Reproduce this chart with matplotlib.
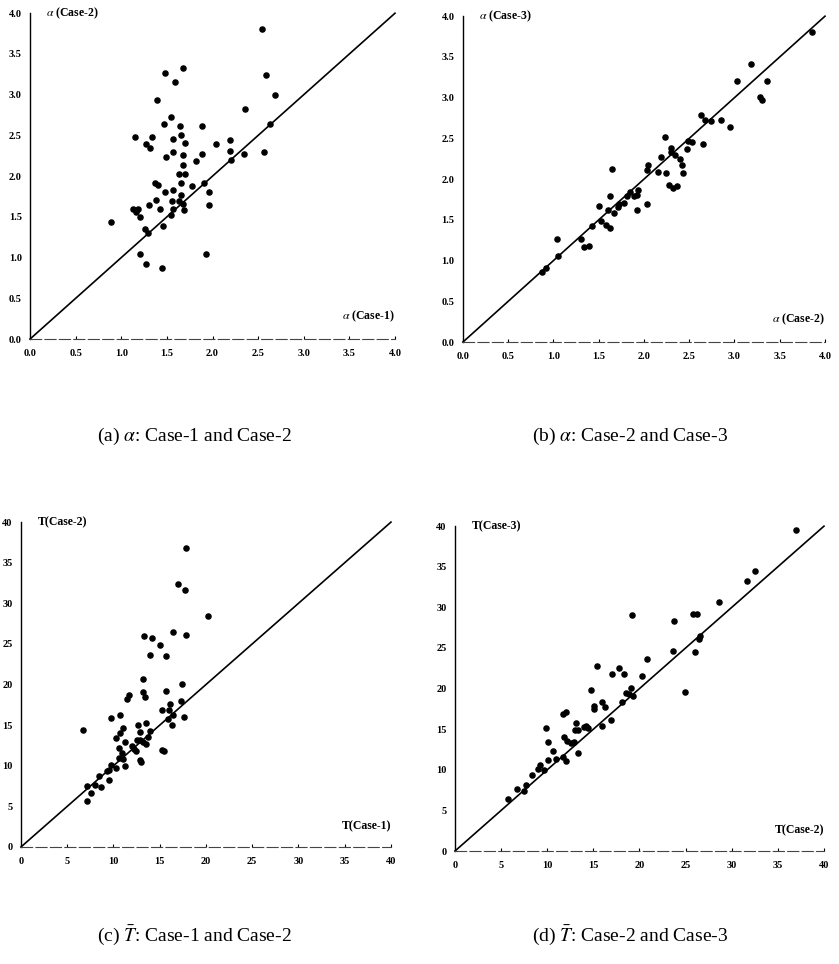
import numpy as np
import matplotlib.pyplot as plt

plt.rcParams['mathtext.fontset'] = 'stix'

# (a) alpha: Case-1 vs Case-2
a_case1 = [0.89, 2.54, 2.59, 2.69, 2.36, 2.63, 2.56, 2.35, 2.20, 2.19, 2.19, 2.04,
           1.89, 1.88, 1.82, 1.78, 1.91, 1.96, 1.96, 1.93, 1.68, 1.48, 1.59, 1.39,
           1.55, 1.47, 1.64, 1.66, 1.57, 1.70, 1.15, 1.34, 1.27, 1.32, 1.57, 1.68,
           1.49, 1.68, 1.63, 1.70, 1.65, 1.37, 1.40, 1.48, 1.57, 1.65, 1.38, 1.30,
           1.56, 1.63, 1.68, 1.69, 1.57, 1.42, 1.54, 1.13, 1.18, 1.16, 1.20, 1.26,
           1.29, 1.46, 1.20, 1.27, 1.45]
a_case2 = [1.44, 3.80, 3.24, 2.99, 2.82, 2.64, 2.29, 2.27, 2.20, 2.31, 2.44, 2.40,
           2.62, 2.27, 2.18, 1.88, 1.91, 1.80, 1.64, 1.05, 3.33, 3.27, 3.15, 2.93,
           2.72, 2.64, 2.61, 2.51, 2.46, 2.41, 2.48, 2.48, 2.39, 2.34, 2.30, 2.26,
           2.23, 2.14, 2.02, 2.02, 1.91, 1.92, 1.89, 1.80, 1.83, 1.77, 1.71, 1.64,
           1.69, 1.70, 1.66, 1.58, 1.60, 1.60, 1.52, 1.60, 1.60, 1.56, 1.50, 1.35,
           1.30, 1.39, 1.04, 0.92, 0.87]

# (b) alpha: Case-2 vs Case-3
b_case2 = [3.86, 3.18, 3.03, 3.36, 3.28, 3.30, 2.63, 2.67, 2.74, 2.85, 2.95, 2.65,
           2.49, 2.53, 2.47, 2.23, 2.30, 2.30, 2.34, 2.19, 2.40, 2.42, 2.43, 2.24,
           2.16, 2.04, 2.03, 2.28, 2.32, 2.36, 1.93, 1.92, 1.89, 1.85, 1.81, 1.78,
           1.72, 1.71, 1.92, 2.03, 1.65, 1.62, 1.60, 1.67, 1.50, 1.53, 1.58, 1.62,
           1.43, 1.30, 1.34, 1.39, 1.04, 1.05, 0.92, 0.87]
b_case3 = [3.81, 3.41, 3.20, 3.20, 3.01, 2.97, 2.79, 2.73, 2.71, 2.73, 2.64, 2.43,
           2.47, 2.46, 2.37, 2.52, 2.38, 2.33, 2.29, 2.27, 2.25, 2.17, 2.08, 2.08,
           2.09, 2.17, 2.11, 1.93, 1.89, 1.91, 1.87, 1.81, 1.79, 1.84, 1.79, 1.71,
           1.70, 1.66, 1.62, 1.69, 2.12, 1.79, 1.62, 1.58, 1.67, 1.49, 1.44, 1.40,
           1.43, 1.26, 1.17, 1.18, 1.26, 1.05, 0.91, 0.86]

# (c) T: Case-1 vs Case-2
c_case1 = [17.87, 16.97, 17.76, 20.25, 16.43, 17.87, 13.25, 14.12, 14.98, 13.94,
           15.63, 13.18, 17.44, 15.70, 13.18, 13.39, 11.73, 11.48, 17.29, 16.14,
           15.27, 15.99, 16.43, 17.65, 15.85, 16.28, 9.78, 10.72, 11.01, 10.72,
           10.29, 11.30, 10.58, 10.94, 12.60, 12.82, 13.47, 13.97, 13.68, 12.89,
           12.53, 13.18, 13.47, 12.02, 12.24, 12.45, 10.58, 11.08, 11.30, 10.29,
           9.71, 9.57, 9.28, 9.50, 12.82, 12.96, 15.20, 15.42, 8.48, 8.05, 8.70,
           7.11, 7.62, 7.18, 6.68]
c_case2 = [36.86, 32.44, 31.65, 28.47, 26.45, 26.12, 25.95, 25.74, 24.83, 23.60,
           23.51, 20.74, 20.08, 19.26, 19.09, 18.51, 18.68, 18.26, 18.02, 17.60,
           16.86, 16.86, 16.20, 16.03, 15.79, 14.96, 15.87, 16.28, 14.63, 14.05,
           13.39, 12.89, 12.15, 11.57, 14.96, 14.21, 15.21, 14.30, 13.55, 13.22,
           13.14, 12.98, 12.64, 12.48, 12.07, 11.78, 10.91, 10.83, 9.92, 9.75,
           10.08, 9.50, 9.34, 8.26, 10.66, 10.50, 11.90, 11.82, 8.76, 7.69, 7.36,
           7.52, 6.61, 5.70, 14.38]

# (d) T: Case-2 vs Case-3
d_case2 = [36.94, 32.54, 31.68, 28.58, 19.17, 25.84, 26.20, 23.71, 23.60, 25.98,
           26.56, 26.41, 24.90, 20.86, 20.29, 15.35, 17.77, 16.97, 18.31, 14.74,
           15.03, 15.10, 15.89, 16.25, 19.03, 18.56, 18.85, 18.13, 19.35, 16.86,
           15.89, 14.23, 14.45, 13.95, 13.08, 13.01, 13.37, 12.07, 11.71, 11.78,
           12.14, 12.58, 12.86, 13.37, 9.91, 10.05, 10.63, 10.13, 10.99, 11.71,
           12.00, 9.26, 8.97, 9.62, 8.40, 7.75, 7.46, 6.74, 5.80]
d_case3 = [39.55, 34.43, 33.24, 30.66, 29.10, 29.14, 29.14, 28.36, 24.63, 24.55,
           26.52, 26.11, 19.63, 23.65, 21.52, 22.75, 22.58, 21.84, 21.76, 19.80,
           17.91, 17.50, 18.40, 17.75, 20.12, 19.47, 19.30, 18.40, 19.06, 16.19,
           15.37, 15.45, 15.20, 15.29, 15.78, 14.96, 14.96, 17.17, 16.84, 14.06,
           13.57, 13.32, 13.40, 12.09, 15.12, 13.40, 12.34, 11.19, 11.35, 11.60,
           11.11, 10.53, 10.04, 9.96, 9.30, 8.16, 7.34, 7.58, 6.43]

alpha_ticks = [0.0, 0.5, 1.0, 1.5, 2.0, 2.5, 3.0, 3.5, 4.0]
T_ticks = [0, 5, 10, 15, 20, 25, 30, 35, 40]

tick_font = dict(family='Liberation Serif', weight='bold', size=7.5)
lab_font = dict(family='Liberation Serif', weight='bold', size=8.5)

fig = plt.figure(figsize=(8.39, 9.64), dpi=100)

panels = [
    # rect, x, y, ticks, fmt, xlabel, ylabel, caption, caption xy
    ([0.0358, 0.6483, 0.435, 0.338], a_case1, a_case2, alpha_ticks, '{:.1f}',
     r'$\alpha$ (Case-1)', r'$\alpha$ (Case-2)', r'(a) $\alpha$: Case-1 and Case-2', (0.232, 0.547)),
    ([0.5518, 0.6452, 0.4315, 0.338], b_case2, b_case3, alpha_ticks, '{:.1f}',
     r'$\alpha$ (Case-2)', r'$\alpha$ (Case-3)', r'(b) $\alpha$: Case-2 and Case-3', (0.751, 0.547)),
    ([0.025, 0.1214, 0.441, 0.337], c_case1, c_case2, T_ticks, '{:d}',
     'T(Case-1)', 'T(Case-2)', r'(c) $\bar{T}$: Case-1 and Case-2', (0.232, 0.030)),
    ([0.5423, 0.1172, 0.4398, 0.337], d_case2, d_case3, T_ticks, '{:d}',
     'T(Case-2)', 'T(Case-3)', r'(d) $\bar{T}$: Case-2 and Case-3', (0.751, 0.030)),
]

for rect, xs, ys, ticks, fmt, xlab, ylab, cap, cxy in panels:
    ax = fig.add_axes(rect)
    lo, hi = ticks[0], ticks[-1]
    ax.plot([lo, hi], [lo, hi], color='black', linewidth=1.2, clip_on=False)
    ax.plot(xs, ys, 'o', color='black', markersize=3.7, clip_on=False)
    ax.set_xlim(lo, hi)
    ax.set_ylim(lo, hi)
    ax.set_xticks(ticks)
    ax.set_yticks(ticks)
    ax.set_xticklabels([fmt.format(t) for t in ticks], fontdict=tick_font)
    ax.set_yticklabels([fmt.format(t) for t in ticks], fontdict=tick_font)
    ax.tick_params(axis='x', direction='in', length=2, width=0.8, pad=7)
    ax.tick_params(axis='y', direction='in', length=0, pad=6)
    for s in ['top', 'right']:
        ax.spines[s].set_visible(False)
    ax.spines['left'].set_linewidth(1.0)
    ax.spines['bottom'].set_linewidth(0.8)
    ax.spines['bottom'].set_color('#444444')
    ax.spines['bottom'].set_linestyle((0, (10, 3)))
    ax.patch.set_alpha(0)
    span = hi - lo
    ax.text(lo + 0.045 * span, hi, ylab, fontdict=lab_font, ha='left', va='center')
    ax.text(hi, lo + 0.045 * span, xlab, fontdict=lab_font, ha='right', va='bottom')
    fig.text(cxy[0], cxy[1], cap, ha='center', va='center',
             family='Liberation Serif', fontsize=14)

fig.savefig('out.png', dpi=100)
